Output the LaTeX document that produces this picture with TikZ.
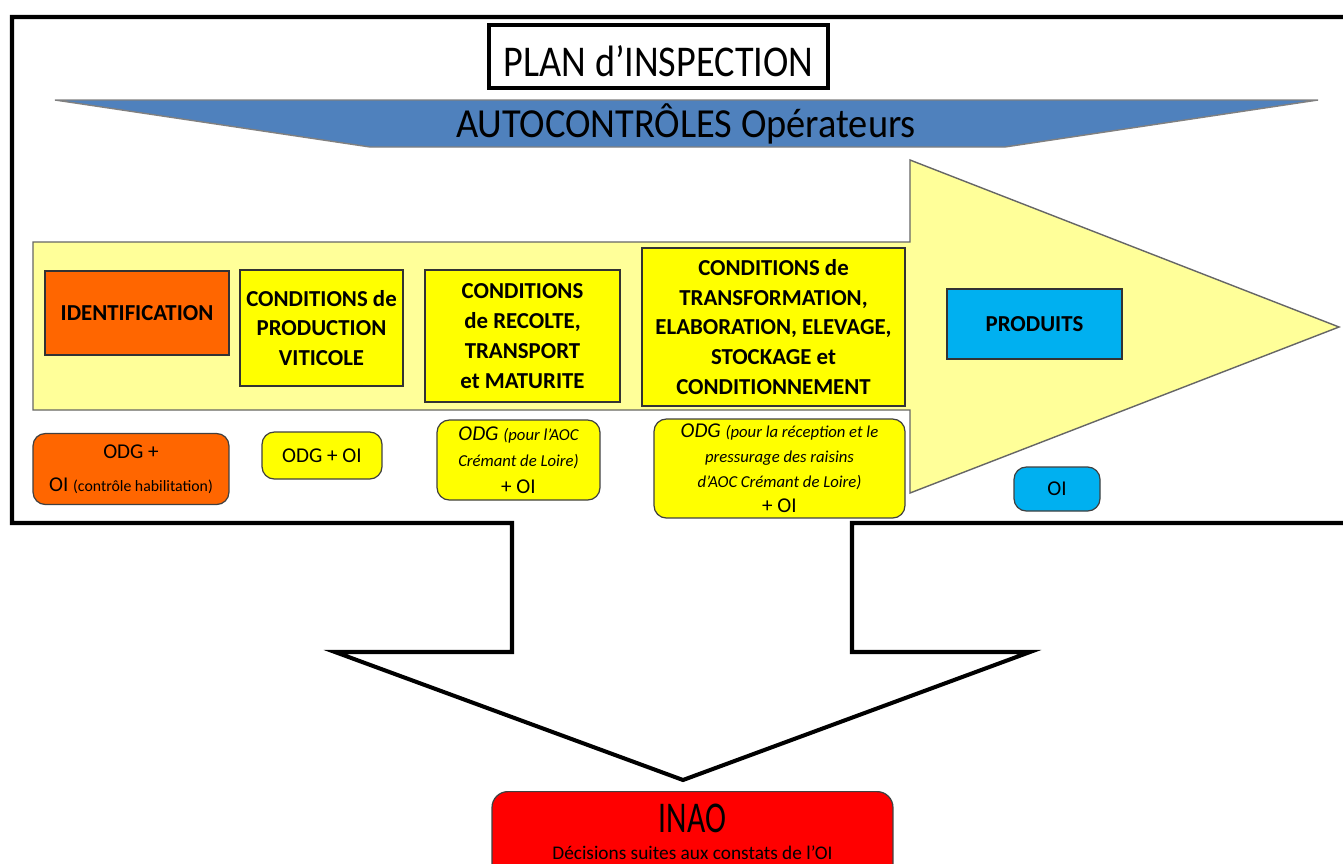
\documentclass[tikz,border=0pt]{standalone}
\usepackage{fontspec}
\setmainfont{Carlito}
\newfontfamily\titlefont[FakeStretch=0.87]{Carlito}
\newfontfamily\bannerfont[FakeStretch=0.93]{Carlito}
\newfontfamily\condfont[FakeStretch=0.72]{Carlito}
\definecolor{bannerblue}{HTML}{4F81BD}
\definecolor{paleyellow}{HTML}{FFFF99}
\definecolor{brightyellow}{HTML}{FFFF00}
\definecolor{orangebox}{HTML}{FF6600}
\definecolor{cyanbox}{HTML}{00B0F0}
\definecolor{redbox}{HTML}{FF0000}
\tikzset{
  sqbox/.style={draw=black!80, line width=0.7pt, align=center, inner sep=0pt,
    font=\fontsize{13}{17}\selectfont\bfseries},
  rbox/.style={draw=black!75, line width=0.7pt, rounded corners=7pt, align=center, inner sep=0pt,
    font=\fontsize{12}{15}\selectfont}
}
\newcommand{\smit}[1]{{\fontsize{9.5}{14}\selectfont\itshape #1}}
\begin{document}
\begin{tikzpicture}[x=0.02cm,y=-0.02cm]
\useasboundingbox (0,0) rectangle (1343,863);
\fill[white] (0,0) rectangle (1343,863);
% outer frame with down arrow
\draw[line width=2.3pt, fill=white, line join=miter] (12,17) -- (1370,17) -- (1370,523) -- (852,523) -- (852,652) -- (1030,652) -- (683,780) -- (335,652) -- (512,652) -- (512,523) -- (12,523) -- cycle;
% title
\node[draw, line width=2.3pt, minimum width=6.78cm, minimum height=1.26cm, inner sep=0pt,
  text height=23pt, text depth=0pt,
  font=\titlefont\fontsize{25}{30}\selectfont] (title) at (658.5,56.5) {PLAN d’INSPECTION};
% banner
\path[fill=bannerblue, draw=gray, line width=0.8pt] (55,100) -- (1318,100) -- (1005,147) -- (370,147) -- cycle;
\node[font=\bannerfont\fontsize{23.5}{28}\selectfont, inner sep=0pt] (banner) at (686,124) {AUTOCONTRÔLES Opérateurs};
% big arrow
\path[fill=paleyellow, draw=gray!80!black, line width=0.8pt] (33,242) -- (910,242) -- (910,160) -- (1339,327) -- (910,493) -- (910,410) -- (33,410) -- cycle;
% step boxes
\node[sqbox, fill=orangebox, minimum width=3.68cm, minimum height=1.68cm] (ident) at (137,313) {IDENTIFICATION};
\node[sqbox, fill=brightyellow, minimum width=3.26cm, minimum height=2.32cm] (prod) at (321.5,328) {CONDITIONS de\\PRODUCTION\\VITICOLE};
\node[sqbox, fill=brightyellow, minimum width=3.9cm, minimum height=2.64cm] (recolte) at (522.5,336) {CONDITIONS\\de RECOLTE,\\TRANSPORT\\et MATURITE};
\node[sqbox, fill=brightyellow, minimum width=5.26cm, minimum height=3.16cm] (transfo) at (773.5,327) {CONDITIONS de\\TRANSFORMATION,\\ELABORATION, ELEVAGE,\\STOCKAGE et\\CONDITIONNEMENT};
\node[sqbox, fill=cyanbox, minimum width=3.5cm, minimum height=1.4cm] (produits) at (1034.5,324) {PRODUITS};
% control boxes
\node[rbox, fill=orangebox, minimum width=3.92cm, minimum height=1.42cm, font=\fontsize{12}{19}\selectfont] (c1) at (131,469) {ODG +\\OI {\fontsize{9}{12}\selectfont (contrôle habilitation)}};
\node[rbox, fill=brightyellow, minimum width=2.4cm, minimum height=0.94cm] (c2) at (322,455.5) {ODG + OI};
\node[rbox, fill=brightyellow, minimum width=3.26cm, minimum height=1.6cm, font=\fontsize{12}{15}\selectfont] (c3) at (518.5,460) {\textit{ODG} \smit{(pour l’AOC}\\\smit{Crémant de Loire)}\\+ OI};
\node[rbox, fill=brightyellow, minimum width=5.02cm, minimum height=1.98cm, font=\fontsize{12}{14.2}\selectfont] (c4) at (779.5,468.5) {\textit{ODG} \smit{(pour la réception et le}\\\smit{pressurage des raisins}\\\smit{d’AOC Crémant de Loire)}\\+ OI};
\node[rbox, fill=cyanbox, minimum width=1.72cm, minimum height=0.88cm] (c5) at (1057,489) {OI};
% INAO
\node[rbox, fill=redbox, rounded corners=9pt, minimum width=8.02cm, minimum height=1.8cm, anchor=north] (inao) at (692.5,791) {};
\node[font=\condfont\fontsize{25}{28}\selectfont, inner sep=0pt] (inaot) at (692.5,818) {INAO};
\node[font=\fontsize{11}{12}\selectfont, inner sep=0pt] (inaos) at (692.5,853) {Décisions suites aux constats de l’OI};
\end{tikzpicture}
\end{document}
